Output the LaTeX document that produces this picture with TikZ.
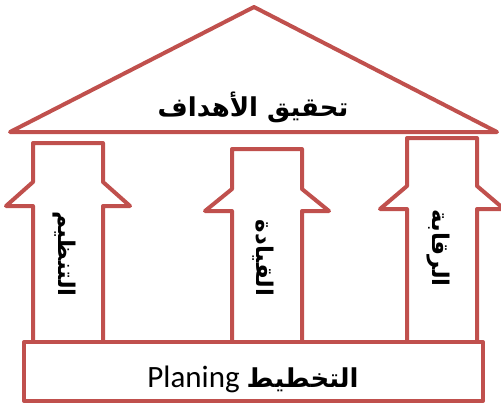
\documentclass[tikz,border=0pt]{standalone}
\usepackage{fontspec}
\setmainfont{Carlito}
\newfontfamily\arabicfont[Script=Arabic]{DejaVu Sans}
\TeXXeTstate=1
\definecolor{tred}{HTML}{C0504D}
\begin{document}
\begin{tikzpicture}[x=1pt,y=-1pt,
  outline/.style={draw=tred,line width=4pt,line join=round},
  ar/.style={font=\arabicfont\bfseries\fontsize{26}{30}\selectfont,inner sep=0pt},
  arv/.style={ar,rotate=-90,font=\arabicfont\bfseries\fontsize{23}{26}\selectfont}]
\useasboundingbox (0,0) rectangle (501,405);
\clip (0,0) rectangle (501,405);
% roof
\draw[outline] (10,132) -- (254,7) -- (497,132) -- cycle;
% pillars (up-arrow outlines)
\draw[outline] (33,342) -- (33,206) -- (6,206) -- (33,182) -- (33,143) -- (103,143)
  -- (103,182) -- (130,206) -- (103,206) -- (103,342);
\draw[outline] (232,342) -- (232,211) -- (205,211) -- (232,189) -- (232,149) -- (302,149)
  -- (302,189) -- (329,211) -- (302,211) -- (302,342);
\draw[outline] (407,342) -- (407,209) -- (380,209) -- (407,186) -- (407,138) -- (477,138)
  -- (477,186) -- (504,209) -- (477,209) -- (477,342);
% base
\draw[outline] (24,342) rectangle (483,401);
% texts
\node[ar] (goal) at (253,107) {\beginR تحقيق الأهداف\endR};
\node[arv] (org) at (64,254) {\beginR التنظيم\endR};
\node[arv] (lead) at (263,258) {\beginR القيادة\endR};
\node[arv] (ctrl) at (438,248) {\beginR الرقابة\endR};
\node[anchor=base,inner sep=0pt,font=\fontsize{31}{34}\selectfont] (plan) at (253,387)
  {Planing {\arabicfont\bfseries\fontsize{26}{30}\selectfont\beginR التخطيط\endR}};
\end{tikzpicture}
\end{document}
